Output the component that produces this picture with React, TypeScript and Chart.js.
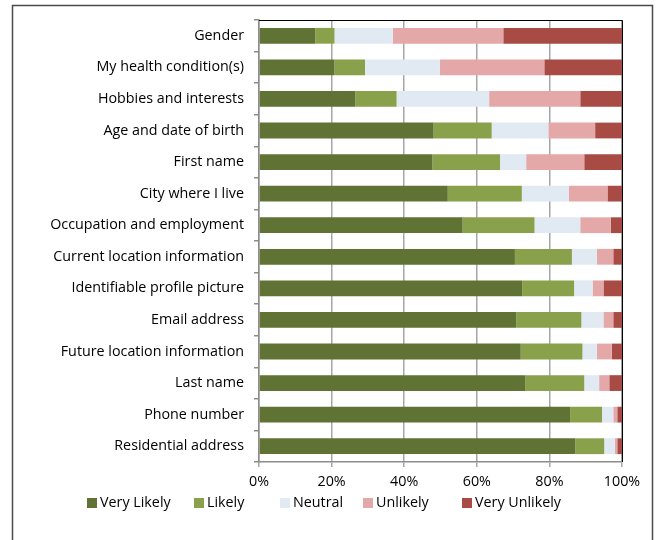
import React, { useEffect, useRef } from "react";
import { Chart, registerables } from "chart.js";

Chart.register(...registerables);

const categories = [
  "Gender",
  "My health condition(s)",
  "Hobbies and interests",
  "Age and date of birth",
  "First name",
  "City where I live",
  "Occupation and employment",
  "Current location information",
  "Identifiable profile picture",
  "Email address",
  "Future location information",
  "Last name",
  "Phone number",
  "Residential address",
];

const veryLikely = [15.5, 20.8, 26.5, 48.1, 47.8, 52.0, 56.1, 70.5, 72.5, 70.9, 72.1, 73.3, 85.7, 87.1];
const likely = [5.3, 8.4, 11.4, 16.0, 18.6, 20.4, 19.8, 15.7, 14.3, 17.9, 17.0, 16.3, 8.8, 8.0];
const neutral = [16.1, 20.6, 25.5, 15.6, 7.2, 13.0, 12.6, 6.9, 5.1, 6.1, 4.0, 4.1, 3.1, 2.9];
const unlikely = [30.4, 28.8, 25.1, 12.9, 16.0, 10.6, 8.4, 4.5, 3.0, 2.7, 4.1, 2.8, 1.1, 0.7];
const veryUnlikely = [32.7, 21.4, 11.5, 7.4, 10.4, 4.0, 3.1, 2.4, 5.1, 2.4, 2.8, 3.5, 1.3, 1.3];

const seriesNames = ["Very Likely", "Likely", "Neutral", "Unlikely", "Very Unlikely"];
const seriesColors = ["#617235", "#8aa14b", "#e1e9f3", "#e3a8a7", "#a84b45"];
const xTicks = [0, 20, 40, 60, 80, 100];

const FONT = "'Open Sans', Lato, sans-serif";
const FSIZE = 14.3;

// legend item x-positions (Excel-style uneven slots)
const LEGEND_X = [87, 194, 280, 363, 462];
const LEGEND_Y = 503;

const framePlugin = {
  id: "frame",
  afterDraw(chart: any) {
    const { ctx, chartArea } = chart;
    ctx.save();
    ctx.strokeStyle = "#000";
    ctx.lineWidth = 1;
    ctx.beginPath();
    ctx.moveTo(chartArea.left, chartArea.top + 0.5);
    ctx.lineTo(chartArea.right + 0.5, chartArea.top + 0.5);
    ctx.lineTo(chartArea.right + 0.5, chartArea.bottom);
    ctx.stroke();
    ctx.strokeStyle = "#4a4a4a";
    ctx.lineWidth = 1.5;
    ctx.beginPath();
    ctx.moveTo(12.5, 560);
    ctx.lineTo(12.5, 5.5);
    ctx.lineTo(652.5, 5.5);
    ctx.lineTo(652.5, 560);
    ctx.stroke();

    // legend
    ctx.font = `${FSIZE}px ${FONT}`;
    ctx.textBaseline = "middle";
    ctx.textAlign = "left";
    chart.data.datasets.forEach((ds: any, i: number) => {
      const x = LEGEND_X[i];
      ctx.fillStyle = ds.backgroundColor;
      ctx.fillRect(x, LEGEND_Y - 5, 10, 10);
      ctx.fillStyle = "#000";
      ctx.fillText(ds.label, x + 13, LEGEND_Y);
    });
    ctx.restore();
  },
};

export default function App() {
  const ref = useRef<HTMLCanvasElement>(null);
  useEffect(() => {
    document.body.style.margin = "0";
    const data = [veryLikely, likely, neutral, unlikely, veryUnlikely];
    const chart = new Chart(ref.current!, {
      type: "bar",
      data: {
        labels: categories,
        datasets: seriesNames.map((name, i) => ({
          label: name,
          data: data[i],
          backgroundColor: seriesColors[i],
          borderWidth: 0,
          barPercentage: 0.5,
          categoryPercentage: 1,
        })),
      },
      options: {
        indexAxis: "y",
        animation: false,
        responsive: false,
        devicePixelRatio: 1,
        layout: { padding: { left: 0, top: 20, right: 34, bottom: 48 } },
        plugins: {
          tooltip: { enabled: false },
          legend: { display: false },
        },
        scales: {
          x: {
            stacked: true,
            min: 0,
            max: 100,
            afterBuildTicks: (scale: any) => {
              scale.ticks = xTicks.map((v) => ({ value: v }));
            },
            afterFit: (scale: any) => {
              scale.height = 30;
            },
            ticks: {
              callback: (v: any) => v + "%",
              color: "#000",
              font: { family: FONT, size: FSIZE },
              padding: 6,
            },
            grid: { color: "#a6a6a6", lineWidth: 1.5, tickLength: 5 },
            border: { color: "#8c8c8c", width: 1.5 },
          },
          y: {
            stacked: true,
            afterFit: (scale: any) => {
              scale.width = 259;
            },
            ticks: {
              color: "#000",
              font: { family: FONT, size: FSIZE },
              padding: 10,
            },
            grid: {
              offset: true,
              drawOnChartArea: false,
              drawTicks: true,
              tickLength: 5,
              color: "#8c8c8c",
              lineWidth: 1.5,
            },
            border: { color: "#8c8c8c", width: 1.5 },
          },
        },
      },
      plugins: [framePlugin],
    } as any);
    return () => chart.destroy();
  }, []);
  return (
    <div style={{ width: 656, height: 540, background: "#fff" }}>
      <canvas ref={ref} width={656} height={540} />
    </div>
  );
}
